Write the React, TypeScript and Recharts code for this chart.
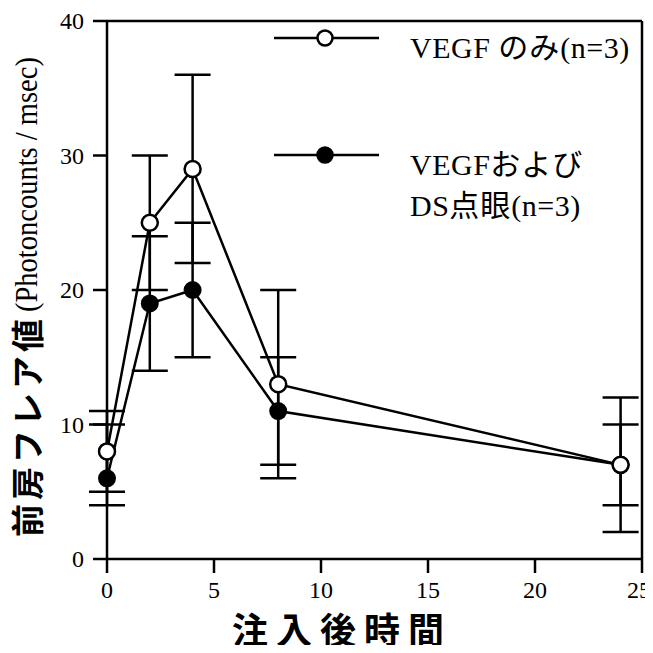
import { LineChart, Line, XAxis, YAxis, ErrorBar, ReferenceLine, Legend } from 'recharts'

const hours = [0, 2, 4, 8, 24]
const vegfOnly = [8, 25, 29, 13, 7]
const vegfOnlyErr = [[3, 3], [5, 5], [7, 7], [7, 7], [5, 5]]
const vegfDs = [6, 19, 20, 11, 7]
const vegfDsErr = [[2, 4], [5, 5], [5, 5], [4, 4], [3, 3]]
const xTicks = [0, 5, 10, 15, 20, 25]
const yTicks = [0, 10, 20, 30, 40]

const data = hours.map((t, i) => ({
  t,
  open: vegfOnly[i],
  openErr: vegfOnlyErr[i],
  ds: vegfDs[i],
  dsErr: vegfDsErr[i],
}))

const SERIF = '"Liberation Serif", "DejaVu Serif", serif'
const JP = '"Noto Sans CJK JP", "Noto Sans", sans-serif'
const INK = '#000'

function LegendBox() {
  const marker = (filled: boolean) => (
    <svg width={110} height={20} style={{ position: 'absolute', left: 0, top: -10 }}>
      <line x1={2} y1={10} x2={107} y2={10} stroke={INK} strokeWidth={2.5} />
      <circle cx={53} cy={10} r={7.5} fill={filled ? INK : '#fff'} stroke={INK} strokeWidth={2.5} />
    </svg>
  )
  const txt = { position: 'absolute' as const, left: 138, whiteSpace: 'nowrap' as const, color: INK, fontFamily: SERIF, fontSize: 30, lineHeight: '30px', letterSpacing: 0.5 }
  const jp = { fontFamily: JP, fontSize: 30, letterSpacing: 1 }
  return (
    <div style={{ position: 'relative', width: 380, height: 220 }}>
      <div style={{ position: 'absolute', left: 0, top: 38 }}>{marker(false)}</div>
      <div style={{ ...txt, top: 30 }}>VEGF <span style={jp}>のみ</span>(n=3)</div>
      <div style={{ position: 'absolute', left: 0, top: 155 }}>{marker(true)}</div>
      <div style={{ ...txt, top: 147 }}>VEGF<span style={jp}>および</span></div>
      <div style={{ ...txt, top: 188 }}>DS<span style={jp}>点眼</span>(n=3)</div>
    </div>
  )
}

// y label: japanese part (bold gothic) and latin part (serif) set separately
function YLabel() {
  return (
    <g fill={INK}>
      <text transform="translate(40, 537) rotate(-90)" textAnchor="start" style={{ fontFamily: JP, fontWeight: 700, fontSize: 33, letterSpacing: 4 }}>
        前房フレア値
      </text>
      <text transform="translate(37, 312) rotate(-90) scale(0.92, 1)" textAnchor="start" style={{ fontFamily: SERIF, fontSize: 31 }}>
        (Photoncounts / msec)
      </text>
    </g>
  )
}

function XLabel() {
  return (
    <text x={342} y={644} textAnchor="middle" fill={INK} style={{ fontFamily: JP, fontWeight: 700, fontSize: 36, letterSpacing: 8 }}>
      注入後時間
    </text>
  )
}

const renderXTick = (p: any) => {
  // keep the last label inside the 653px page
  const cx = Math.min(p.x, 639)
  return (
    <text key={p.index} x={cx} y={p.y + 25} textAnchor="middle" fill={INK} fontFamily={SERIF} fontSize={24}>
      {p.payload.value}
    </text>
  )
}

const renderYTick = (p: any) => (
  <text key={p.index} x={p.x} y={p.y + 8} textAnchor="end" fill={INK} fontFamily={SERIF} fontSize={24}>
    {p.payload.value}
  </text>
)

export default function App() {
  return (
    <div style={{ width: 653, height: 653, margin: -8, background: '#fff' }}>
      <LineChart width={653} height={653} data={data} margin={{ top: 21, right: 11, left: 0, bottom: 54 }}>
        <XAxis
          dataKey="t"
          type="number"
          domain={[0, 25]}
          ticks={xTicks}
          height={40}
          tick={renderXTick}
          tickSize={14}
          tickMargin={0}
          stroke={INK}
          strokeWidth={2.5}
          label={<XLabel />}
        />
        <YAxis
          type="number"
          domain={[0, 40]}
          ticks={yTicks}
          width={107}
          tick={renderYTick}
          tickSize={14}
          tickMargin={9}
          stroke={INK}
          strokeWidth={2.5}
          label={<YLabel />}
        />
        <ReferenceLine y={40} stroke={INK} strokeWidth={2.5} />
        <ReferenceLine x={25} stroke={INK} strokeWidth={2.5} />
        <Legend
          layout="horizontal"
          verticalAlign="middle"
          align="center"
          wrapperStyle={{ position: 'absolute', top: 0, left: 272, width: 380 }}
          content={() => <LegendBox />}
        />
        <Line
          dataKey="ds"
          name="VEGFおよびDS点眼(n=3)"
          stroke={INK}
          strokeWidth={2.5}
          dot={{ r: 8, fill: INK, stroke: INK, strokeWidth: 2 }}
          isAnimationActive={false}
        >
          <ErrorBar dataKey="dsErr" direction="y" width={18} stroke={INK} strokeWidth={2.5} />
        </Line>
        <Line
          dataKey="open"
          name="VEGF のみ(n=3)"
          stroke={INK}
          strokeWidth={2.5}
          dot={{ r: 8, fill: '#fff', stroke: INK, strokeWidth: 2.5 }}
          isAnimationActive={false}
        >
          <ErrorBar dataKey="openErr" direction="y" width={18} stroke={INK} strokeWidth={2.5} />
        </Line>
      </LineChart>
    </div>
  )
}
